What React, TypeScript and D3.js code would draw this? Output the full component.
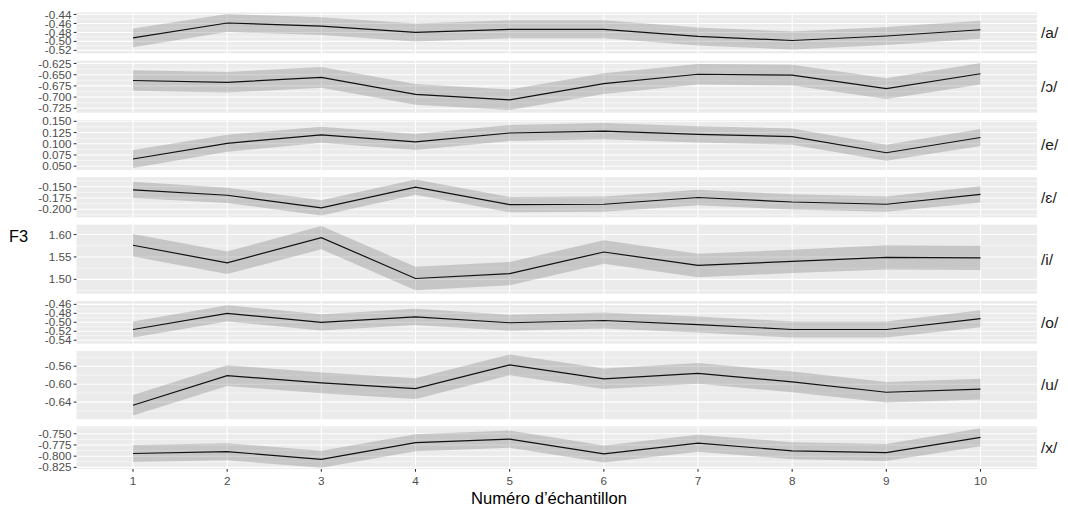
import React from "react";
import * as d3 from "d3";

const samples = [1, 2, 3, 4, 5, 6, 7, 8, 9, 10];
const vowels = ["/a/", "/ɔ/", "/e/", "/ɛ/", "/i/", "/o/", "/u/", "/x/"];

const f3A = [-0.492, -0.459, -0.466, -0.48, -0.473, -0.473, -0.489, -0.498, -0.488, -0.474];
const f3OpenO = [-0.663, -0.667, -0.656, -0.694, -0.706, -0.67, -0.649, -0.651, -0.681, -0.648];
const f3E = [0.066, 0.101, 0.12, 0.104, 0.124, 0.128, 0.121, 0.116, 0.08, 0.114];
const f3OpenE = [-0.157, -0.169, -0.197, -0.151, -0.19, -0.189, -0.174, -0.184, -0.189, -0.167];
const f3I = [1.576, 1.537, 1.593, 1.502, 1.513, 1.561, 1.531, 1.54, 1.549, 1.548];
const f3O = [-0.516, -0.48, -0.5, -0.488, -0.501, -0.496, -0.505, -0.516, -0.516, -0.492];
const f3U = [-0.647, -0.581, -0.597, -0.61, -0.557, -0.588, -0.576, -0.595, -0.618, -0.611];
const f3X = [-0.794, -0.79, -0.807, -0.77, -0.762, -0.795, -0.771, -0.788, -0.792, -0.758];

const seA = [0.021, 0.02, 0.02, 0.02, 0.02, 0.02, 0.02, 0.02, 0.02, 0.02];
const seOpenO = [0.023, 0.023, 0.023, 0.023, 0.023, 0.023, 0.023, 0.023, 0.023, 0.024];
const seE = [0.02, 0.019, 0.018, 0.018, 0.018, 0.018, 0.018, 0.018, 0.018, 0.019];
const seOpenE = [0.018, 0.017, 0.017, 0.017, 0.017, 0.017, 0.017, 0.017, 0.017, 0.018];
const seI = [0.025, 0.025, 0.026, 0.026, 0.026, 0.026, 0.026, 0.026, 0.027, 0.027];
const seO = [0.018, 0.018, 0.018, 0.018, 0.018, 0.018, 0.018, 0.018, 0.018, 0.019];
const seU = [0.023, 0.023, 0.023, 0.023, 0.023, 0.023, 0.023, 0.023, 0.023, 0.023];
const seX = [0.019, 0.019, 0.019, 0.019, 0.019, 0.019, 0.019, 0.019, 0.019, 0.02];

const yLimits: [number, number][] = [
  [-0.5267, -0.4356],
  [-0.7348, -0.6188],
  [0.0418, 0.1529],
  [-0.2182, -0.1287],
  [1.468, 1.622],
  [-0.5476, -0.4526],
  [-0.6778, -0.526],
  [-0.8286, -0.7336],
];

const yTicks = [
  [-0.52, -0.5, -0.48, -0.46, -0.44],
  [-0.725, -0.7, -0.675, -0.65, -0.625],
  [0.05, 0.075, 0.1, 0.125, 0.15],
  [-0.2, -0.175, -0.15],
  [1.5, 1.55, 1.6],
  [-0.54, -0.52, -0.5, -0.48, -0.46],
  [-0.64, -0.6, -0.56],
  [-0.825, -0.8, -0.775, -0.75],
];
const yTickLabels = [
  ["-0.52", "-0.50", "-0.48", "-0.46", "-0.44"],
  ["-0.725", "-0.700", "-0.675", "-0.650", "-0.625"],
  ["0.050", "0.075", "0.100", "0.125", "0.150"],
  ["-0.200", "-0.175", "-0.150"],
  ["1.50", "1.55", "1.60"],
  ["-0.54", "-0.52", "-0.50", "-0.48", "-0.46"],
  ["-0.64", "-0.60", "-0.56"],
  ["-0.825", "-0.800", "-0.775", "-0.750"],
];

const series = [f3A, f3OpenO, f3E, f3OpenE, f3I, f3O, f3U, f3X];
const ses = [seA, seOpenO, seE, seOpenE, seI, seO, seU, seX];

const W = 1068;
const H = 512;
const panelLeft = 76.5;
const panelRight = 1037;
const panelTop = 12.5;
const panelBottom = 469;
const gap = 7.3;
const font = "'Liberation Sans', Arial, Helvetica, sans-serif";

export default function App() {
  const spans = yLimits.map((l) => l[1] - l[0]);
  const total = d3.sum(spans);
  const k = (panelBottom - panelTop - gap * (yLimits.length - 1)) / total;
  let cursor = panelTop;
  const panels = yLimits.map((lim, i) => {
    const h = spans[i] * k;
    const top = cursor;
    cursor += h + gap;
    return { top, bottom: top + h, lim };
  });

  const x = d3
    .scalePoint<number>()
    .domain(samples)
    .range([panelLeft, panelRight])
    .padding(0.6);

  return (
    <svg
      width={W}
      height={H}
      style={{ position: "absolute", left: 0, top: 0, display: "block", background: "white" }}
      fontFamily={font}
    >
      {panels.map((p, i) => {
        const y = d3.scaleLinear().domain(p.lim).range([p.bottom, p.top]);
        const ticks = yTicks[i];
        const step = ticks[1] - ticks[0];
        const minors: number[] = [];
        for (let j = -1; j < ticks.length; j++) {
          const m = ticks[0] + step * (j + 0.5);
          if (m > p.lim[0] && m < p.lim[1]) minors.push(m);
        }
        const data = samples.map((s, j) => ({ s, v: series[i][j], e: ses[i][j] }));
        const area = d3
          .area<any>()
          .x((d) => x(d.s)!)
          .y0((d) => y(d.v - d.e))
          .y1((d) => y(d.v + d.e));
        const line = d3
          .line<any>()
          .x((d) => x(d.s)!)
          .y((d) => y(d.v));
        return (
          <g key={i}>
            <rect
              x={panelLeft}
              y={p.top}
              width={panelRight - panelLeft}
              height={p.bottom - p.top}
              fill="#EBEBEB"
            />
            {minors.map((m, j) => (
              <line key={"mn" + j} x1={panelLeft} x2={panelRight} y1={y(m)} y2={y(m)} stroke="white" strokeWidth={0.53} />
            ))}
            {ticks.map((t, j) => (
              <line key={"mj" + j} x1={panelLeft} x2={panelRight} y1={y(t)} y2={y(t)} stroke="white" strokeWidth={1.07} />
            ))}
            {samples.map((s) => (
              <line key={"v" + s} x1={x(s)} x2={x(s)} y1={p.top} y2={p.bottom} stroke="white" strokeWidth={1.07} />
            ))}
            <path d={area(data)!} fill="#333333" fillOpacity={0.2} />
            <path d={line(data)!} fill="none" stroke="#111111" strokeWidth={1.2} />
            {ticks.map((t, j) => (
              <g key={"t" + j}>
                <line x1={panelLeft - 2.75} x2={panelLeft} y1={y(t)} y2={y(t)} stroke="#333333" strokeWidth={1.07} />
                <text
                  x={panelLeft - 5}
                  y={y(t)}
                  dy="0.35em"
                  textAnchor="end"
                  fontSize={11.7}
                  fill="#4D4D4D"
                >
                  {yTickLabels[i][j]}
                </text>
              </g>
            ))}
            <text
              x={1041}
              y={(p.top + p.bottom) / 2}
              dy="0.35em"
              fontSize={15.5}
              fill="#1A1A1A"
            >
              {vowels[i]}
            </text>
          </g>
        );
      })}
      {samples.map((s) => (
        <g key={"xt" + s}>
          <line x1={x(s)} x2={x(s)} y1={panelBottom} y2={panelBottom + 2.75} stroke="#333333" strokeWidth={1.07} />
          <text x={x(s)} y={panelBottom + 16} textAnchor="middle" fontSize={11.7} fill="#4D4D4D">
            {s}
          </text>
        </g>
      ))}
      <text x={549} y={503.5} textAnchor="middle" fontSize={16.6} fill="#000000">
        Numéro d’échantillon
      </text>
      <text x={9} y={242} fontSize={16.4} fill="#000000">
        F3
      </text>
    </svg>
  );
}
